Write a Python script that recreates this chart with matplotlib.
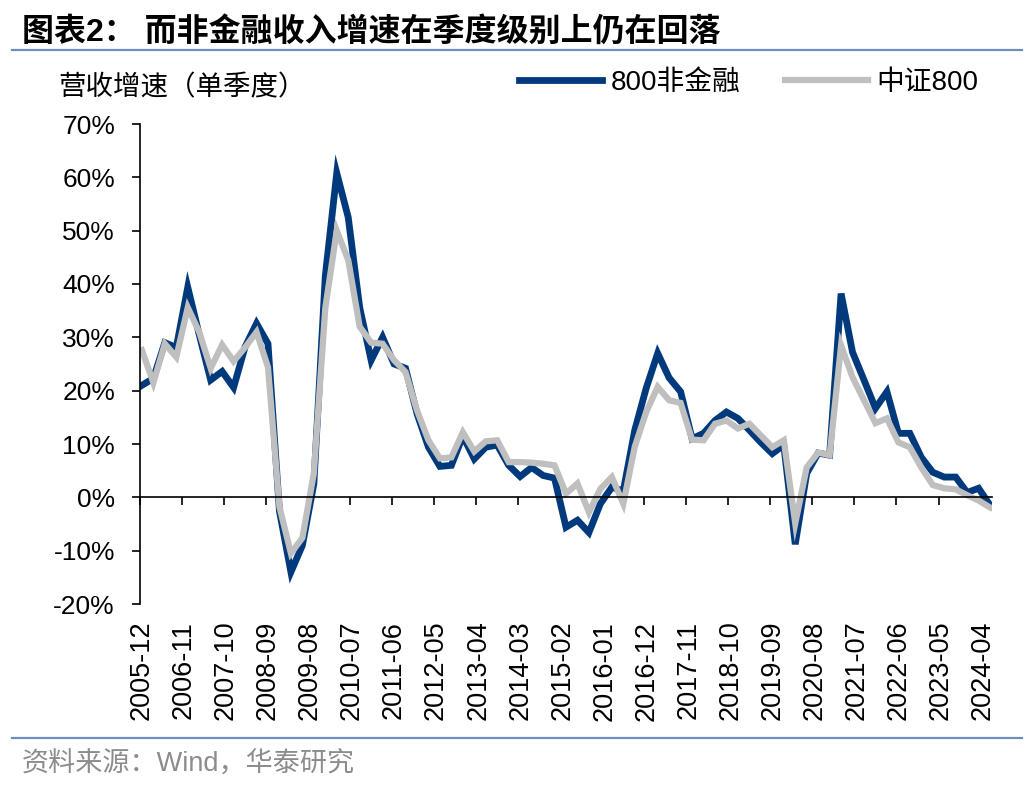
import matplotlib
matplotlib.use('Agg')
import matplotlib.pyplot as plt
from matplotlib.lines import Line2D

plt.rcParams['font.family'] = ['Liberation Sans', 'Noto Sans CJK SC']
plt.rcParams['axes.unicode_minus'] = False

# 单季度营收增速（%），2005Q4 - 2024Q2
nonfin_800 = [21.0, 22.3, 29.0, 28.1, 39.4, 30.5, 22.0, 23.6, 20.6, 28.2,
              32.6, 28.8, -2.6, -14.0, -9.0, 2.5, 41.5, 60.8, 52.5, 35.6,
              25.7, 30.0, 25.0, 24.2, 15.7, 9.4, 5.8, 6.0, 11.5, 7.2,
              9.4, 9.8, 6.0, 3.9, 5.6, 4.1, 3.6, -5.6, -4.3, -6.6,
              -1.2, 1.9, 1.2, 12.6, 20.5, 27.0, 22.4, 19.8, 11.0, 12.0,
              14.4, 16.0, 14.8, 12.6, 10.3, 8.2, 9.8, -8.8, 4.5, 8.3,
              7.9, 38.2, 27.2, 22.0, 16.7, 19.8, 12.0, 12.0, 7.5, 4.7,
              3.8, 3.8, 0.9, 1.7, -1.5]
csi_800 = [27.6, 21.5, 28.8, 26.3, 35.6, 31.0, 24.2, 28.6, 25.5, 28.1,
           31.0, 24.4, -1.8, -10.5, -7.6, 4.5, 35.5, 50.0, 44.5, 32.0,
           29.0, 28.8, 25.7, 23.5, 16.3, 10.7, 7.3, 7.5, 12.2, 8.6,
           10.5, 10.7, 6.6, 6.6, 6.5, 6.3, 6.0, 0.7, 2.6, -2.8,
           1.6, 3.8, -1.2, 9.5, 16.0, 20.7, 18.2, 17.7, 10.8, 10.7,
           13.8, 14.4, 12.9, 13.8, 11.6, 9.4, 10.7, -4.9, 5.6, 8.4,
           7.9, 28.5, 22.5, 18.2, 13.9, 14.8, 10.3, 9.4, 5.6, 2.3,
           1.7, 1.5, 0.4, -0.6, -1.9]
tick_labels = ['2005-12', '2006-11', '2007-10', '2008-09', '2009-08', '2010-07',
               '2011-06', '2012-05', '2013-04', '2014-03', '2015-02', '2016-01',
               '2016-12', '2017-11', '2018-10', '2019-09', '2020-08', '2021-07',
               '2022-06', '2023-05', '2024-04']

# 横轴按月计数（2005-12 为 0），数据点在季末
months = [3 * i for i in range(len(nonfin_800))]
label_pos = [11 * i for i in range(len(tick_labels))]

fig = plt.figure(figsize=(10.36, 7.92), dpi=100)
ax = fig.add_axes([140 / 1036, 188 / 792, 852 / 1036, 480 / 792])

ax.plot(months, nonfin_800, color='#003A7D', lw=4.9, solid_joinstyle='miter', label='800非金融')
ax.plot(months, csi_800, color='#BFBFBF', lw=4.5, solid_joinstyle='miter', label='中证800')

ax.set_xlim(-0.5, 222.5)
ax.set_ylim(-20, 70)
ax.set_yticks(range(-20, 71, 10))
ax.set_yticklabels([f'{v}%' for v in range(-20, 71, 10)])
ax.tick_params(axis='y', direction='out', length=6, width=1.2, labelsize=19, pad=12)

ax.spines['top'].set_visible(False)
ax.spines['right'].set_visible(False)
ax.spines['left'].set_linewidth(1.2)
ax.spines['bottom'].set_position(('data', 0))
ax.spines['bottom'].set_linewidth(1.2)
ax.set_xticks([p - 0.5 for p in label_pos])
ax.tick_params(axis='x', direction='out', length=6, width=1.2, labelbottom=False)

sec = ax.secondary_xaxis('bottom')
sec.set_xticks(label_pos)
sec.set_xticklabels(tick_labels, rotation=90, fontsize=19.5)
sec.tick_params(length=0, pad=12)
sec.spines['bottom'].set_visible(False)

# 标题与分隔线
fig.text(22 / 1036, 1 - 32 / 792, '图表2： 而非金融收入增速在季度级别上仍在回落',
         fontsize=23, fontweight='bold', va='center', ha='left')
fig.add_artist(Line2D([12 / 1036, 1022 / 1036], [1 - 50 / 792, 1 - 50 / 792],
                      color='#6F8DBE', lw=1.6))
fig.add_artist(Line2D([12 / 1036, 1022 / 1036], [1 - 738 / 792, 1 - 738 / 792],
                      color='#6F8DBE', lw=1.6))

fig.text(58 / 1036, 1 - 88 / 792, '营收增速（单季度）', fontsize=19.8, va='center', ha='left')

fig.legend(loc='center left', bbox_to_anchor=(519 / 1036, 1 - 83 / 792), ncol=2,
           frameon=False, fontsize=20, handlelength=3.0, handletextpad=0.3,
           columnspacing=1.6, borderpad=0, borderaxespad=0)

fig.text(22 / 1036, 1 - 765 / 792, '资料来源：Wind，华泰研究', fontsize=19.5,
         color='#8C8C8C', va='center', ha='left')

fig.savefig('out.png', dpi=100)
